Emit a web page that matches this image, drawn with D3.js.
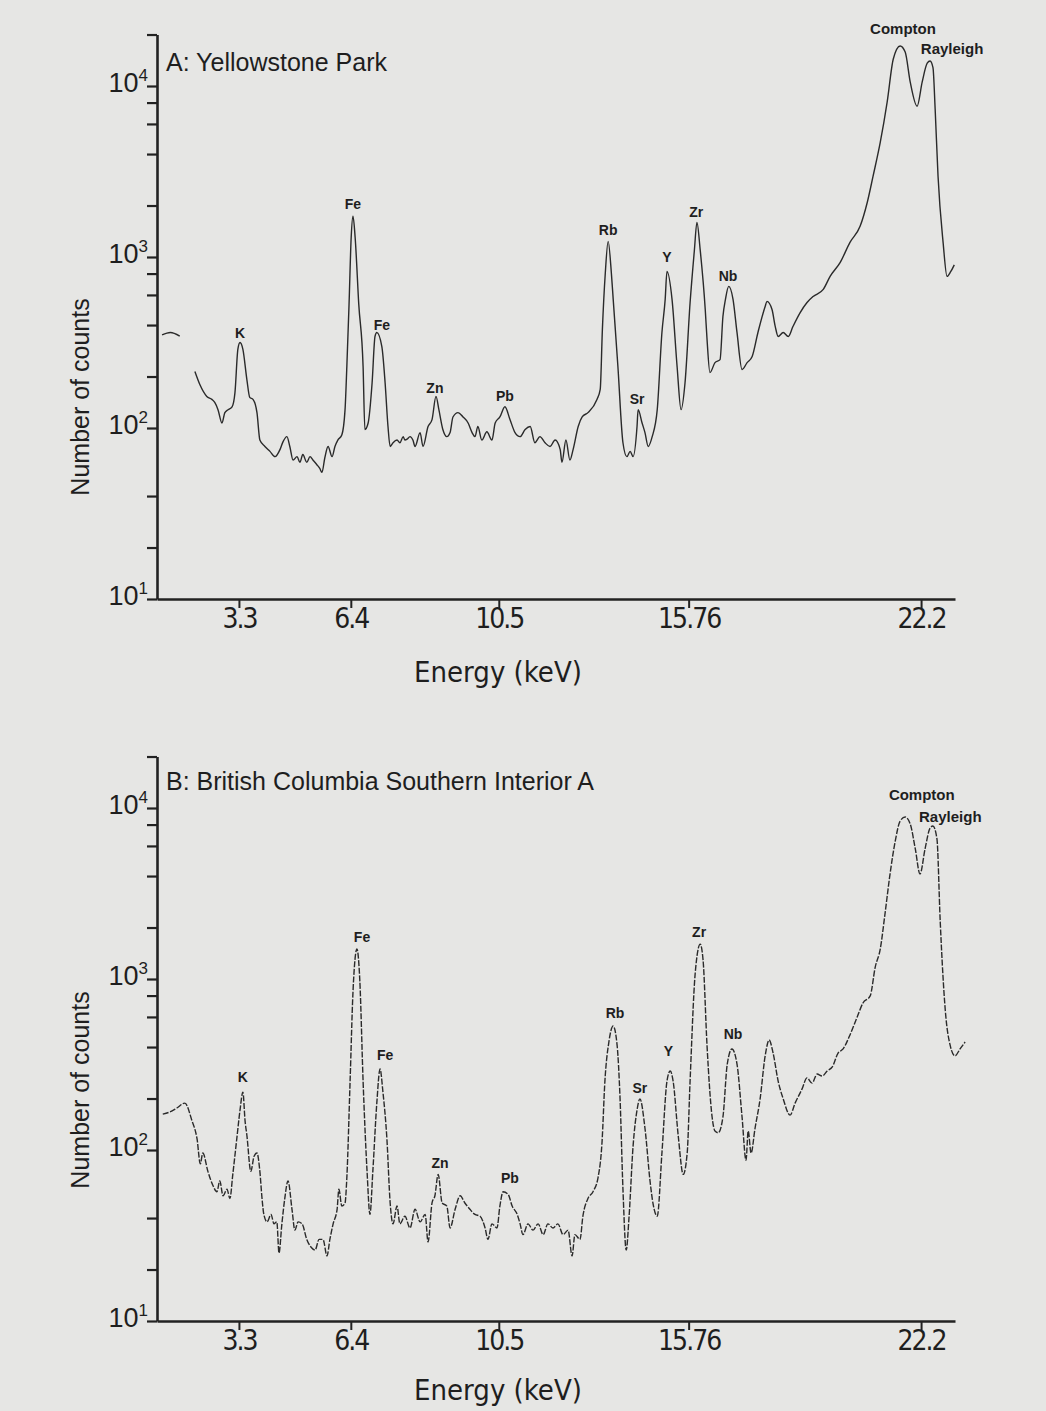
<!DOCTYPE html>
<html lang="en">
<head>
<meta charset="UTF-8">
<title>XRF spectra</title>
<script src="https://cdn.jsdelivr.net/npm/d3@7"></script>
<style>
  body { margin: 0; background: #e6e6e4; }
  svg text { fill: #1e1e1e; }
  .axis path, .axis line { stroke: #222; }
</style>
</head>
<body>
<div id="chart"></div>
<script>
	// tick values
	var xTicks = [3.3, 6.4, 10.5, 15.76, 22.2];
	var yMajor = [10, 100, 1000, 10000];
	var yMinor = [20, 40, 200, 400, 600, 800, 2000, 4000, 6000, 8000, 20000];

	// spectrum A: [energy keV, counts], null = gap in the print
	var spectrumA = [
		[1.17,350],[1.40,362],[1.66,345],[1.90,null],
		[2.08,214],[2.22,179],[2.41,153],[2.55,147],[2.63,141],[2.72,128],[2.83,107],[2.91,123],[3.00,128],[3.11,133],
		[3.19,161],[3.27,288],[3.33,316],[3.41,288],[3.52,192],[3.60,151],[3.69,147],[3.80,123],[3.88,85],
		[4.02,78],[4.16,73],[4.30,68],[4.44,75],[4.52,83],[4.63,89],[4.71,78],[4.80,65],[4.91,68],[4.99,63],
		[5.07,70],[5.18,63],[5.27,68],[5.35,65],[5.46,61],[5.54,58],[5.60,55],[5.68,67],[5.77,78],[5.88,68],
		[5.96,78],[6.04,85],[6.15,91],[6.24,128],[6.29,229],[6.35,520],[6.41,1300],[6.46,1730],[6.52,1300],
		[6.62,530],[6.74,229],[6.79,98],[6.88,107],[6.99,184],[7.07,343],[7.12,362],[7.26,299],[7.35,184],
		[7.43,102],[7.49,78],[7.57,82],[7.68,85],[7.76,82],[7.85,89],[7.90,85],[7.96,86],[8.04,89],[8.12,85],
		[8.18,78],[8.32,94],[8.40,78],[8.54,102],[8.65,112],[8.76,153],[8.84,128],[8.95,98],[9.06,89],[9.15,94],
		[9.23,116],[9.37,123],[9.51,116],[9.65,107],[9.76,94],[9.84,89],[9.92,102],[10.03,85],[10.17,95],
		[10.31,85],[10.40,107],[10.53,116],[10.67,133],[10.81,112],[10.95,94],[11.09,89],[11.23,98],[11.37,102],
		[11.50,82],[11.64,89],[11.78,82],[11.92,78],[12.06,85],[12.20,75],[12.25,63],[12.36,85],[12.47,65],
		[12.56,75],[12.70,102],[12.81,116],[12.97,123],[13.22,147],[13.31,168],[13.37,376],[13.45,800],
		[13.53,1234],[13.62,800],[13.67,565],[13.80,229],[13.94,82],[14.05,68],[14.14,73],[14.22,68],[14.33,102],
		[14.36,128],[14.47,107],[14.55,94],[14.64,78],[14.75,89],[14.89,128],[15.02,362],[15.11,565],[15.16,824],
		[15.30,565],[15.44,229],[15.55,128],[15.66,184],[15.80,540],[15.92,1100],[15.99,1595],[16.08,1100],
		[16.22,493],[16.27,329],[16.35,211],[16.49,241],[16.63,251],[16.71,449],[16.78,565],[16.87,673],
		[16.99,565],[17.10,362],[17.24,220],[17.38,241],[17.52,262],[17.68,362],[17.88,514],[17.93,550],
		[18.07,493],[18.16,392],[18.24,343],[18.38,362],[18.52,343],[18.65,392],[18.85,473],[19.04,542],
		[19.21,588],[19.49,646],[19.68,770],[19.96,930],[20.23,1218],[20.51,1511],[20.71,2090],[20.87,2970],
		[21.07,4690],[21.26,8050],[21.43,14380],[21.62,17140],[21.76,15800],[21.90,10540],[22.09,7620],
		[22.23,10540],[22.37,13600],[22.45,14000],[22.53,12800],[22.59,7330],[22.67,2970],[22.81,1218],[22.92,770],
		[23.02,820],[23.12,900]
	];

	// spectrum B
	var spectrumB = [
		[1.19,162],[1.39,167],[1.58,176],[1.80,188],[2.00,148],[2.14,116],[2.23,83],[2.30,96],[2.44,75],[2.58,62],
		[2.69,57],[2.77,66],[2.86,54],[2.97,59],[3.05,52],[3.13,72],[3.24,116],[3.33,171],[3.41,218],[3.47,148],
		[3.52,122],[3.63,75],[3.72,92],[3.80,96],[3.88,75],[3.94,52],[3.99,42],[4.08,38],[4.19,42],[4.27,37],
		[4.35,38],[4.41,25],[4.49,37],[4.57,52],[4.66,66],[4.77,45],[4.85,34],[4.94,38],[5.05,37],[5.18,30],
		[5.30,27],[5.41,26],[5.52,30],[5.63,30],[5.74,24],[5.82,30],[5.91,37],[6.02,45],[6.07,59],[6.15,47],
		[6.24,49],[6.29,69],[6.38,253],[6.46,840],[6.57,1500],[6.65,973],[6.74,253],[6.85,75],[6.93,42],
		[7.01,75],[7.12,188],[7.21,298],[7.29,218],[7.40,116],[7.49,49],[7.57,37],[7.68,47],[7.76,37],[7.90,41],
		[8.04,35],[8.18,45],[8.32,38],[8.46,42],[8.54,29],[8.65,49],[8.73,54],[8.82,72],[8.93,49],[9.06,47],
		[9.15,35],[9.29,45],[9.43,54],[9.56,49],[9.70,45],[9.84,42],[9.98,41],[10.12,35],[10.20,30],[10.31,37],
		[10.45,35],[10.53,47],[10.62,57],[10.76,55],[10.87,47],[11.01,42],[11.09,37],[11.17,32],[11.31,37],
		[11.45,34],[11.59,37],[11.73,32],[11.86,37],[12.00,35],[12.14,37],[12.28,32],[12.42,34],[12.53,24],
		[12.61,32],[12.75,30],[12.83,41],[12.97,52],[13.11,57],[13.25,69],[13.36,111],[13.44,253],[13.55,428],
		[13.67,531],[13.78,406],[13.86,199],[13.94,59],[14.03,26],[14.11,41],[14.22,105],[14.33,171],[14.41,199],
		[14.55,134],[14.69,66],[14.77,49],[14.89,41],[15.02,96],[15.16,253],[15.25,290],[15.33,253],[15.47,122],
		[15.61,72],[15.72,96],[15.80,253],[15.94,1070],[16.08,1600],[16.16,1290],[16.27,406],[16.41,156],
		[16.49,129],[16.58,126],[16.71,156],[16.83,318],[16.96,390],[17.10,318],[17.24,156],[17.35,87],
		[17.41,129],[17.49,96],[17.60,134],[17.74,199],[17.88,355],[17.99,440],[18.10,369],[18.24,253],
		[18.38,199],[18.57,160],[18.71,188],[18.90,227],[19.04,264],[19.18,246],[19.32,278],[19.46,271],
		[19.60,290],[19.74,306],[19.90,369],[20.04,390],[20.23,471],[20.43,600],[20.59,724],[20.79,796],
		[20.93,1175],[21.07,1500],[21.20,2400],[21.34,4110],[21.48,6330],[21.62,8390],[21.76,8860],[21.90,8060],
		[22.04,5760],[22.17,4110],[22.31,5760],[22.45,7640],[22.53,7850],[22.64,6590],[22.73,2180],[22.87,659],
		[23.01,406],[23.14,355],[23.28,390],[23.42,428]
	];

	// peak labels (name, energy, counts where the label sits)
	var peakNames = ["K", "Fe", "Fe", "Zn", "Pb", "Rb", "Sr", "Y", "Zr", "Nb", "Compton", "Rayleigh"];
	var peakEnergyA = [3.33, 6.46, 7.26, 8.73, 10.67, 13.53, 14.33, 15.16, 15.97, 16.85, 21.70, 23.06];
	var peakCountsA = [338, 1900, 372, 161, 143, 1340, 139, 929, 1706, 719, 20100, 15400];
	var peakEnergyB = [3.41, 6.71, 7.35, 8.87, 10.81, 13.72, 14.41, 15.20, 16.05, 16.99, 22.22, 23.01];
	var peakCountsB = [250, 1645, 336, 78, 64, 591, 215, 355, 1762, 446, 11140, 8280];

	var width = 1046, height = 1411;
	var svg = d3.select("#chart").append("svg")
			.attr("width", width)
			.attr("height", height);

	var scale_x = d3.scaleLinear()
			.domain([1.03, 23.14])
			.range([157, 955]);

	var narrow = "'DejaVu Sans Condensed', 'Liberation Sans Narrow', sans-serif";
	var sans = "'Liberation Sans', Arial, Helvetica, sans-serif";

	var panels = [
		{title: "A: Yellowstone Park", data: spectrumA, pe: peakEnergyA, pc: peakCountsA,
			bottom: 599, titleY: 71, xlabY: 682, ylabY: 397, dash: null},
		{title: "B: British Columbia Southern Interior A", data: spectrumB, pe: peakEnergyB, pc: peakCountsB,
			bottom: 1321, titleY: 790, xlabY: 1400, ylabY: 1090, dash: "6,1.6"}
	];

	panels.forEach(function (p) {
		var decade = 171;
		var scale_y = d3.scaleLog()
				.domain([10, 20000])
				.range([p.bottom, p.bottom - decade * Math.log10(2000)]);

		var g = svg.append("g");

		// y axis
		var y_axis = d3.axisLeft(scale_y)
				.tickValues(yMajor.concat(yMinor))
				.tickSize(10)
				.tickSizeOuter(0)
				.tickFormat("");
		g.append("g")
				.attr("class", "axis")
				.attr("transform", "translate(" + scale_x.range()[0] + ",0)")
				.call(y_axis)
				.call(function (s) {
					s.select(".domain").attr("stroke-width", 2.6);
					s.selectAll(".tick line").attr("stroke-width", 2.2);
				});

		// 10^n labels
		var ylab = g.selectAll(".ylab").data(yMajor).enter()
				.append("text")
				.attr("class", "ylab")
				.attr("x", scale_x.range()[0] - 9)
				.attr("y", function (d) { return scale_y(d) + 6; })
				.attr("text-anchor", "end")
				.style("font-family", sans);
		ylab.append("tspan").text("10").style("font-size", "27px");
		ylab.append("tspan").text(function (d) { return Math.round(Math.log10(d)); })
				.attr("dy", -11)
				.style("font-size", "17px");

		// x axis
		var x_axis = d3.axisBottom(scale_x)
				.tickValues(xTicks)
				.tickSize(9)
				.tickSizeOuter(0)
				.tickPadding(0)
				.tickFormat(function (d) { return String(d); });
		g.append("g")
				.attr("class", "axis")
				.attr("transform", "translate(0," + p.bottom + ")")
				.call(x_axis)
				.call(function (s) {
					s.select(".domain").attr("stroke-width", 2.6);
					s.selectAll(".tick line").attr("stroke-width", 2);
					s.selectAll(".tick text")
							.style("font-family", narrow)
							.style("font-size", "28px")
							.style("letter-spacing", "-2px")
							.attr("fill", "#1e1e1e");
				});

		g.append("text")
				.text("Energy (keV)")
				.attr("x", 498)
				.attr("y", p.xlabY)
				.attr("text-anchor", "middle")
				.style("font-family", narrow)
				.style("font-size", "29px");

		g.append("text")
				.text("Number of counts")
				.attr("transform", "translate(89," + p.ylabY + ") rotate(-90)")
				.attr("text-anchor", "middle")
				.style("font-family", sans)
				.style("font-size", "25px");

		g.append("text")
				.text(p.title)
				.attr("x", 166)
				.attr("y", p.titleY)
				.style("font-family", sans)
				.style("font-size", "25px");

		// spectrum
		var line_generator = d3.line()
				.defined(function (d) { return d[1] != null; })
				.x(function (d) { return scale_x(d[0]); })
				.y(function (d) { return scale_y(d[1]); })
				.curve(d3.curveMonotoneX);

		g.append("path")
				.attr("d", line_generator(p.data))
				.attr("fill", "none")
				.attr("stroke", "#2a2a2a")
				.attr("stroke-width", 1.4)
				.attr("stroke-dasharray", p.dash);

		// peak labels
		g.selectAll(".peak").data(peakNames).enter()
				.append("text")
				.attr("class", "peak")
				.text(function (d) { return d; })
				.attr("x", function (d, i) { return scale_x(p.pe[i]); })
				.attr("y", function (d, i) { return scale_y(p.pc[i]); })
				.attr("text-anchor", "middle")
				.style("font-family", sans)
				.style("font-weight", "bold")
				.style("font-size", function (d) { return d.length > 2 ? "15px" : "14px"; });
	});
</script>
</body>
</html>
